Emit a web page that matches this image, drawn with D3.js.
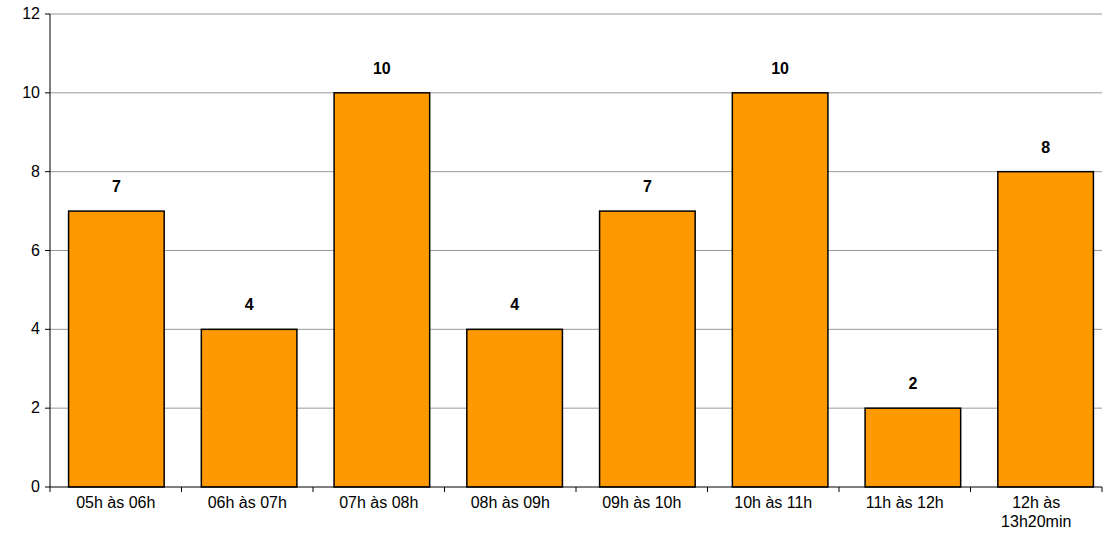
<!DOCTYPE html>
<html><head><meta charset="utf-8">
<script src="https://cdn.jsdelivr.net/npm/d3@7"></script>
<style>body{margin:0;background:#fff}text{font-family:"Liberation Sans",Arial,sans-serif}</style>
</head><body><svg id="c" width="1109" height="549"></svg>
<script>
const categories=["05h às 06h","06h às 07h","07h às 08h","08h às 09h","09h às 10h","10h às 11h","11h às 12h","12h às|13h20min"];
const values=[7,4,10,4,7,10,2,8];
const yTicks=[0,2,4,6,8,10,12];
const svg=d3.select("#c");
const L=50,R=1112,T=14,B=487;
const xb=d3.scaleBand().domain(categories).range([L,R]);
const x=d3.scaleBand().domain(categories).range([L,R]).paddingInner(0.28).paddingOuter(0.14);
const y=d3.scaleLinear().domain([0,12]).range([B,T]);
svg.append("g").selectAll("line").data(yTicks.filter(d=>d>0)).join("line")
 .attr("x1",L).attr("x2",1102).attr("y1",d=>y(d)).attr("y2",d=>y(d)).attr("stroke","#999").attr("stroke-width",1);
svg.append("g").selectAll("rect").data(values).join("rect")
 .attr("x",(d,i)=>x(categories[i])).attr("width",x.bandwidth())
 .attr("y",d=>y(d)).attr("height",d=>B-y(d))
 .attr("fill","#ff9900").attr("stroke","#000").attr("stroke-width",1.5);
svg.append("g").selectAll("text").data(values).join("text")
 .attr("x",(d,i)=>x(categories[i])+x.bandwidth()/2).attr("y",d=>y(d)-19)
 .attr("text-anchor","middle").attr("font-size",16).attr("font-weight","bold").text(d=>d);
svg.append("line").attr("x1",L).attr("x2",L).attr("y1",T).attr("y2",B).attr("stroke","#000");
svg.append("line").attr("x1",L).attr("x2",1102).attr("y1",B).attr("y2",B).attr("stroke","#000");
svg.append("g").selectAll("line").data(yTicks).join("line")
 .attr("x1",L-5).attr("x2",L).attr("y1",d=>y(d)).attr("y2",d=>y(d)).attr("stroke","#000");
svg.append("g").selectAll("text").data(yTicks).join("text")
 .attr("x",L-10).attr("y",d=>y(d)+5).attr("text-anchor","end").attr("font-size",16).text(d=>d);
const xl=d3.scaleBand().domain(categories).range([L,1102]);
svg.append("g").selectAll("line").data(categories.concat(["end"])).join("line")
 .attr("x1",(d,i)=>L+i*xl.step()).attr("x2",(d,i)=>L+i*xl.step()).attr("y1",B).attr("y2",B+5).attr("stroke","#000");
const xt=svg.append("g").selectAll("text").data(categories).join("text")
 .attr("x",d=>xl(d)+xl.bandwidth()/2).attr("y",B+21).attr("text-anchor","middle").attr("font-size",16);
xt.each(function(d){const parts=d.split("|");const t=d3.select(this);
 parts.forEach((p,i)=>t.append("tspan").attr("x",xl(d)+xl.bandwidth()/2).attr("dy",i?19:0).text(p));});
</script></body></html>
